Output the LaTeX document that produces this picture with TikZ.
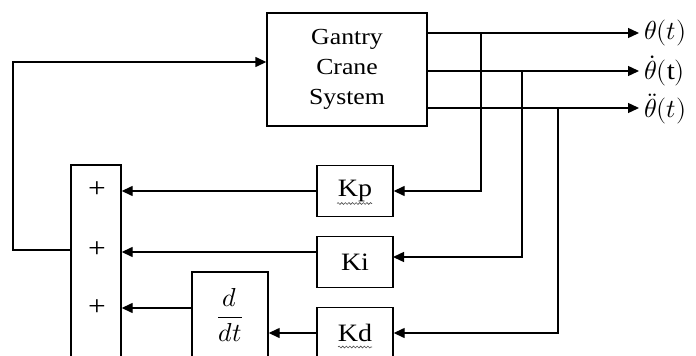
\documentclass[tikz,border=0pt]{standalone}
\usepackage{fontspec}
\usepackage{unicode-math}
\setmainfont{Liberation Serif}[FakeStretch=1.12]
\setmathfont{Latin Modern Math}
\usetikzlibrary{arrows.meta,decorations.pathmorphing}
\tikzset{
  blk/.style={draw, line width=1.4pt, inner sep=0pt, align=center},
  arr/.style={line width=1.4pt, -{Triangle[length=11pt,width=10pt]}},
  lbl/.style={inner sep=0pt, anchor=west, font=\fontsize{26}{28}\selectfont},
  gain/.style={blk, minimum width=76, minimum height=51, font=\fontsize{25}{28}\selectfont},
  plussign/.style={inner sep=0pt, font=\fontsize{28}{30}\selectfont},
  squiggle/.style={decorate, decoration={snake, amplitude=0.9pt, segment length=3.6pt}, line width=0.6pt, black!70}
}
\begin{document}
\begin{tikzpicture}[x=1pt,y=-1pt]
\useasboundingbox (0,0) rectangle (696,356);
\fill[white] (0,0) rectangle (696,356);
\clip (0,0) rectangle (696,356);

% blocks
\node[blk, minimum width=160, minimum height=113, font=\fontsize{23}{30}\selectfont] (g) at (347,69.5) {Gantry\\Crane\\System};
\node[gain] (kp) at (355,191) {Kp};
\node[gain] (ki) at (355,262) {Ki};
\node[gain] (kd) at (355,333) {Kd};
\node[blk, minimum width=50, minimum height=230] (sum) at (96,280) {};
\node[blk, minimum width=76, minimum height=120] (ddt) at (230,332) {};
\node[inner sep=0pt, font=\fontsize{26}{28}\selectfont] (ddtxt) at (230,315) {$\displaystyle\frac{d}{dt}$};

% plus signs
\node[plussign] (p1) at (97,190) {+};
\node[plussign] (p2) at (97,250) {+};
\node[plussign] (p3) at (97,308) {+};

% output labels
\node[lbl] (o1) at (644,33) {$\theta(t)$};
\node[lbl] (o2) at (644,71) {$\dot{\theta}(\mathrm{t})$};
\node[lbl] (o3) at (644,109) {$\ddot{\theta}(t)$};

% helper coordinates
\coordinate (b1) at (481,33);
\coordinate (b2) at (522,71);
\coordinate (b3) at (558,108);
\coordinate (kii) at (393,257);
\coordinate (kio) at (317,252);
\coordinate (dlev) at (192,308);
\coordinate (fb1) at (13,250);
\coordinate (fb2) at (13,62);

% outputs
\draw[arr] (g.east|-b1) -- ([xshift=-5pt]b1-|o1.west);
\draw[arr] (g.east|-b2) -- ([xshift=-5pt]b2-|o2.west);
\draw[arr] (g.east|-b3) -- ([xshift=-5pt]b3-|o3.west);

% feedback branches
\draw[arr] (b1) -- (b1|-kp.east) -- (kp.east);
\draw[arr] (b2) -- (b2|-kii) -- (kii);
\draw[arr] (b3) -- (b3|-kd.east) -- (kd.east);

% gains to summer
\draw[arr] (kp.west) -- (sum.east|-kp.west);
\draw[arr] (kio) -- (sum.east|-kio);
\draw[arr] (kd.west) -- (ddt.east|-kd.west);
\draw[arr] (dlev) -- (sum.east|-dlev);

% summer to plant
\draw[arr] (sum.west|-fb1) -- (fb1) -- (fb2) -- (g.west|-fb2);

% spell-check squiggles
\draw[squiggle] (337,203.5) -- (372,203.5);
\draw[squiggle] (338,347) -- (372,347);
\end{tikzpicture}
\end{document}
